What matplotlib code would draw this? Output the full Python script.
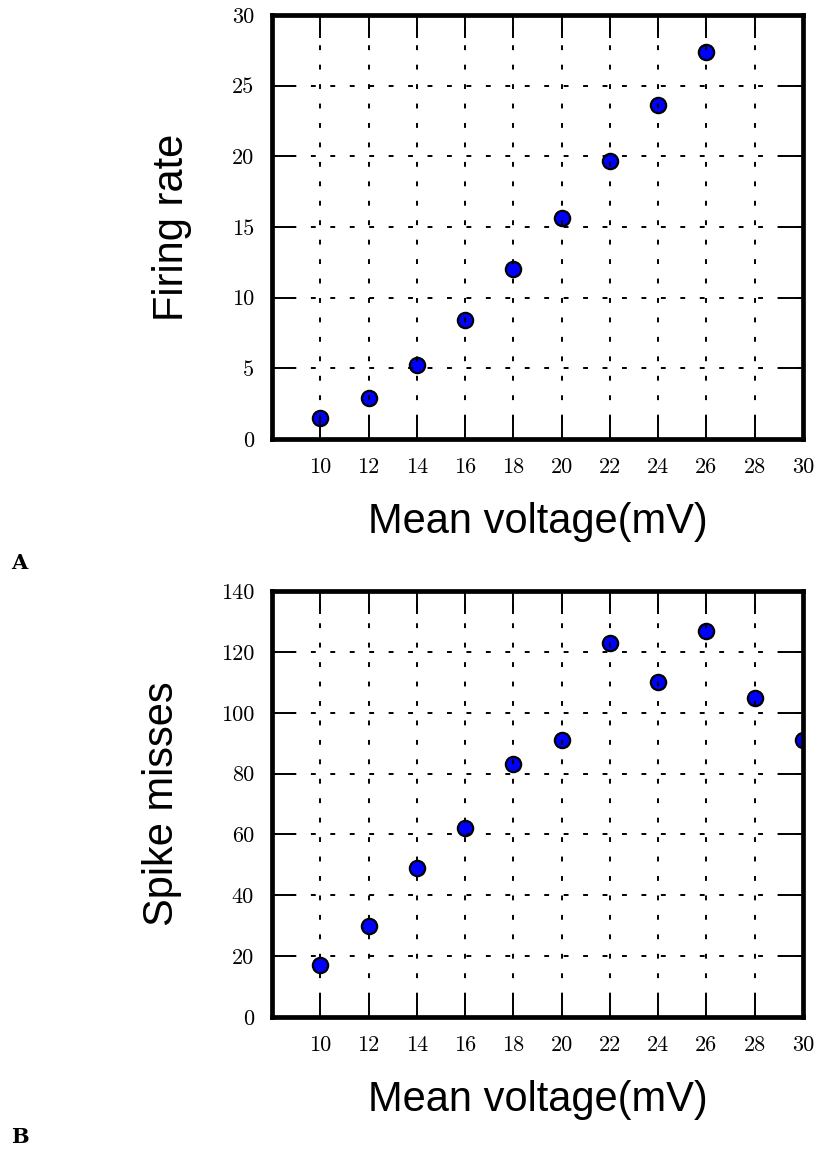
# Firing rate and spike misses versus mean voltage, two stacked panels
import matplotlib
matplotlib.use('Agg')
import matplotlib.pyplot as plt

# Data
voltage_a = [10, 12, 14, 16, 18, 20, 22, 24, 26]
firing_rate = [1.5, 2.9, 5.2, 8.45, 12.05, 15.6, 19.65, 23.6, 27.4]

voltage_b = [10, 12, 14, 16, 18, 20, 22, 24, 26, 28, 30]
spike_misses = [17, 30, 49, 62, 83, 91, 123, 110, 127, 105, 91]

xticks = [10, 12, 14, 16, 18, 20, 22, 24, 26, 28, 30]
yticks_a = [0, 5, 10, 15, 20, 25, 30]
yticks_b = [0, 20, 40, 60, 80, 100, 120, 140]

plt.rcParams['axes.unicode_minus'] = False

fig = plt.figure(figsize=(8.19, 11.51), dpi=100)
ax_a = fig.add_axes([0.3321, 0.6186, 0.6484, 0.3684])
ax_b = fig.add_axes([0.3321, 0.1164, 0.6484, 0.3701])


def style_axes(ax, yticks, ylabel, ylabel_x):
    ax.set_xlim(8, 30)
    ax.set_ylim(yticks[0], yticks[-1])
    ax.set_xticks(xticks)
    ax.set_yticks(yticks)
    ax.set_axisbelow(False)
    ax.grid(True, color='black', linewidth=1.4, linestyle=(0, (2.5, 7.5)))
    for sp in ax.spines.values():
        sp.set_linewidth(3.4)
    ax.tick_params(direction='in', length=16.5, width=1.4, top=True, right=True,
                   pad=13, labelsize=16, labelfontfamily='cmr10')
    ax.set_xlabel('Mean voltage(mV)', fontsize=30, family='Liberation Sans',
                  labelpad=18)
    ax.set_ylabel(ylabel, fontsize=30, family='Liberation Sans')
    ax.yaxis.set_label_coords(ylabel_x, 0.5)


ax_a.plot(voltage_a, firing_rate, 'o', color='blue', markersize=11,
          markeredgecolor='black', markeredgewidth=1.6)
style_axes(ax_a, yticks_a, 'Firing rate', -0.151)

ax_b.plot(voltage_b, spike_misses, 'o', color='blue', markersize=11,
          markeredgecolor='black', markeredgewidth=1.6)
style_axes(ax_b, yticks_b, 'Spike misses', -0.170)

fig.text(0.014, 0.511, 'A', fontsize=15, family='DejaVu Serif',
         weight='bold', va='center')
fig.text(0.014, 0.012, 'B', fontsize=15, family='DejaVu Serif',
         weight='bold', va='center')

fig.savefig('out.png', dpi=100)
